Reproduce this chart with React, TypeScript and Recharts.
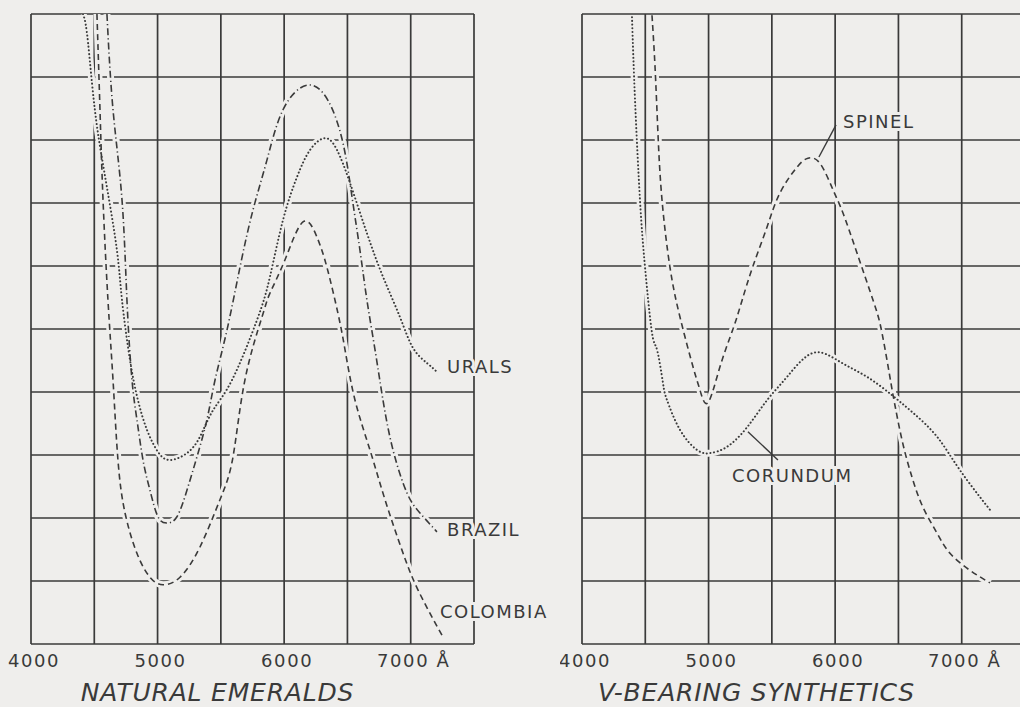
import React from 'react';
import { LineChart, Line, XAxis, YAxis, CartesianGrid, ReferenceDot, ReferenceLine } from 'recharts';

// wavelength grid (Å) and arbitrary absorption rows
const wavelengthTicks = [4000, 4500, 5000, 5500, 6000, 6500, 7000, 7500];
const labelledTicks = [4000, 5000, 6000, 7000];
const absorptionRows = [0, 1, 2, 3, 4, 5, 6, 7, 8, 9, 10];

// natural emeralds
const uralsX = [4411, 4442, 4482, 4529, 4600, 4679, 4719, 4782, 4845, 4916, 5003, 5098, 5232, 5335, 5438, 5588, 5785, 5888, 5991, 6101, 6204, 6323, 6418, 6520, 6654, 6781, 6915, 7018, 7128, 7207];
const uralsY = [10.0, 9.7, 8.9, 8.11, 7.25, 6.25, 5.46, 4.51, 3.87, 3.4, 3.05, 2.92, 3.03, 3.29, 3.71, 4.19, 5.14, 5.83, 6.73, 7.41, 7.84, 8.03, 7.84, 7.32, 6.52, 5.83, 5.19, 4.7, 4.46, 4.32];

const brazilX = [4600, 4648, 4719, 4758, 4798, 4837, 4885, 4940, 5003, 5074, 5153, 5232, 5311, 5390, 5454, 5548, 5651, 5754, 5864, 5991, 6180, 6346, 6465, 6536, 6599, 6654, 6718, 6781, 6860, 6970, 7073, 7207];
const brazilY = [10.0, 8.48, 7.05, 5.46, 4.19, 3.56, 2.92, 2.44, 2.02, 1.92, 2.02, 2.44, 2.97, 3.56, 4.19, 4.98, 5.98, 6.89, 7.68, 8.48, 8.87, 8.63, 7.95, 7.1, 6.25, 5.46, 4.67, 3.87, 3.08, 2.4, 2.08, 1.78];

const colombiaX = [4521, 4545, 4569, 4608, 4648, 4687, 4743, 4837, 4940, 5043, 5177, 5335, 5493, 5596, 5690, 5825, 5888, 6007, 6149, 6259, 6338, 6425, 6481, 6560, 6678, 6797, 6931, 7057, 7255];
const colombiaY = [10.0, 8.48, 7.05, 5.46, 4.19, 2.92, 2.08, 1.44, 1.06, 0.94, 1.06, 1.54, 2.29, 2.97, 4.19, 5.19, 5.57, 6.1, 6.7, 6.46, 5.98, 5.25, 4.67, 3.87, 3.08, 2.29, 1.49, 0.86, 0.11];

// V-bearing synthetics
const spinelX = [4553, 4577, 4600, 4632, 4695, 4774, 4877, 4932, 4995, 5090, 5193, 5264, 5351, 5462, 5564, 5699, 5785, 5880, 5983, 6062, 6172, 6299, 6370, 6441, 6465, 6528, 6607, 6694, 6805, 6907, 7065, 7223];
const spinelY = [9.98, 9.16, 8.11, 7.05, 5.98, 5.19, 4.4, 4.03, 3.83, 4.4, 5.0, 5.45, 6.0, 6.62, 7.16, 7.57, 7.71, 7.63, 7.21, 6.84, 6.21, 5.46, 4.94, 4.14, 3.87, 3.24, 2.65, 2.17, 1.76, 1.44, 1.17, 0.97];

const corundumX = [4395, 4419, 4458, 4498, 4553, 4593, 4640, 4672, 4774, 4909, 5011, 5146, 5304, 5462, 5620, 5825, 6038, 6252, 6449, 6615, 6805, 6986, 7223];
const corundumY = [9.95, 8.63, 7.05, 5.98, 4.94, 4.67, 4.14, 3.87, 3.4, 3.08, 3.03, 3.13, 3.44, 3.87, 4.24, 4.62, 4.48, 4.24, 3.95, 3.67, 3.29, 2.76, 2.13];

const BG = '#efeeec';
const INK = '#3a3a3a';
const FONT = '"DejaVu Sans", Verdana, sans-serif';

const DASHED = '6 4';
const DASH_DOT = '7 3 1.2 3';
const DOTTED = '0.1 3.6';

const zip = (xs: number[], ys: number[]) => xs.map((x, i) => ({ x, y: ys[i] }));

type Series = { name: string; data: { x: number; y: number }[]; dash: string; dotted?: boolean };
type Note = { text: string; x: number; y: number };
type Leader = { x1: number; y1: number; x2: number; y2: number };

const emeraldSeries: Series[] = [
  { name: 'URALS', data: zip(uralsX, uralsY), dash: DOTTED, dotted: true },
  { name: 'BRAZIL', data: zip(brazilX, brazilY), dash: DASH_DOT },
  { name: 'COLOMBIA', data: zip(colombiaX, colombiaY), dash: DASHED },
];
const emeraldNotes: Note[] = [
  { text: 'URALS', x: 7287, y: 4.4 },
  { text: 'BRAZIL', x: 7287, y: 1.81 },
  { text: 'COLOMBIA', x: 7231, y: 0.51 },
];

const syntheticSeries: Series[] = [
  { name: 'SPINEL', data: zip(spinelX, spinelY), dash: DASHED },
  { name: 'CORUNDUM', data: zip(corundumX, corundumY), dash: DOTTED, dotted: true },
];
const syntheticNotes: Note[] = [
  { text: 'SPINEL', x: 6062, y: 8.29 },
  { text: 'CORUNDUM', x: 5185, y: 2.68 },
];
const syntheticLeaders: Leader[] = [
  { x1: 6007, y1: 8.24, x2: 5872, y2: 7.73 },
  { x1: 5311, y1: 3.37, x2: 5548, y2: 2.92 },
];

const WavelengthTick = (props: any) => {
  const { x, y, payload } = props;
  const v = payload.value;
  if (!labelledTicks.includes(v)) return <g />;
  return (
    <text x={x + 3} y={y + 23} textAnchor="middle" fill={INK} fontFamily={FONT} fontSize={18} letterSpacing={1.6}>
      {v === 7000 ? '7000 Å' : String(v)}
    </text>
  );
};

const PanelTitle = (props: any) => {
  const { viewBox, text, shift } = props;
  return (
    <text
      x={viewBox.x + viewBox.width / 2 + shift}
      y={viewBox.y + viewBox.height - 6}
      textAnchor="middle"
      fill={INK}
      fontFamily={FONT}
      fontStyle="italic"
      fontSize={25}
      letterSpacing={0.8}
    >
      {text}
    </text>
  );
};

const noteShape = (text: string) => (p: any) => (
  <text
    x={p.cx}
    y={p.cy}
    dy="0.36em"
    fill={INK}
    fontFamily={FONT}
    fontSize={18}
    letterSpacing={1.5}
    stroke={BG}
    strokeWidth={6}
    paintOrder="stroke"
  >
    {text}
  </text>
);

interface PanelProps {
  series: Series[];
  notes: Note[];
  leaders: Leader[];
  title: string;
  titleShift: number;
  width: number;
  marginLeft: number;
  marginRight: number;
}

const Panel: React.FC<PanelProps> = ({ series, notes, leaders, title, titleShift, width, marginLeft, marginRight }) => (
  <LineChart width={width} height={707} margin={{ top: 14, right: marginRight, bottom: 0, left: marginLeft }}>
    <CartesianGrid stroke={INK} strokeWidth={1.7} />
    <XAxis
      type="number"
      dataKey="x"
      domain={[4000, 7500]}
      ticks={wavelengthTicks}
      interval={0}
      allowDataOverflow
      axisLine={false}
      tickLine={false}
      tickSize={0}
      tickMargin={0}
      height={63}
      tick={<WavelengthTick />}
      label={<PanelTitle text={title} shift={titleShift} />}
    />
    <YAxis type="number" hide domain={[0, 10]} ticks={absorptionRows} allowDataOverflow />
    {series.map((s) => (
      <Line
        key={'halo-' + s.name}
        name={'halo-' + s.name}
        data={s.data}
        dataKey="y"
        type="natural"
        stroke={BG}
        strokeWidth={7}
        dot={false}
        activeDot={false}
        isAnimationActive={false}
      />
    ))}
    {series.map((s) => (
      <Line
        key={s.name}
        name={s.name}
        data={s.data}
        dataKey="y"
        type="natural"
        stroke={INK}
        strokeWidth={s.dotted ? 2 : 1.6}
        strokeDasharray={s.dash}
        strokeLinecap={s.dotted ? 'round' : 'butt'}
        dot={false}
        activeDot={false}
        isAnimationActive={false}
      />
    ))}
    {leaders.map((l, i) => (
      <ReferenceLine
        key={'leader-' + i}
        segment={[{ x: l.x1, y: l.y1 }, { x: l.x2, y: l.y2 }]}
        stroke={INK}
        strokeWidth={1.4}
      />
    ))}
    {notes.map((n) => (
      <ReferenceDot key={n.text} x={n.x} y={n.y} r={0} shape={noteShape(n.text)} />
    ))}
  </LineChart>
);

export default function App() {
  return (
    <div style={{ position: 'absolute', left: 0, top: 0, width: 1020, height: 707, overflow: 'hidden', background: BG }}>
      <div style={{ position: 'absolute', left: 0, top: 0 }}>
        <Panel
          series={emeraldSeries}
          notes={emeraldNotes}
          leaders={[]}
          title="NATURAL EMERALDS"
          titleShift={-35}
          width={560}
          marginLeft={31}
          marginRight={86}
        />
      </div>
      <div style={{ position: 'absolute', left: 560, top: 0 }}>
        <Panel
          series={syntheticSeries}
          notes={syntheticNotes}
          leaders={syntheticLeaders}
          title="V-BEARING SYNTHETICS"
          titleShift={-47}
          width={480}
          marginLeft={22}
          marginRight={15}
        />
      </div>
    </div>
  );
}
